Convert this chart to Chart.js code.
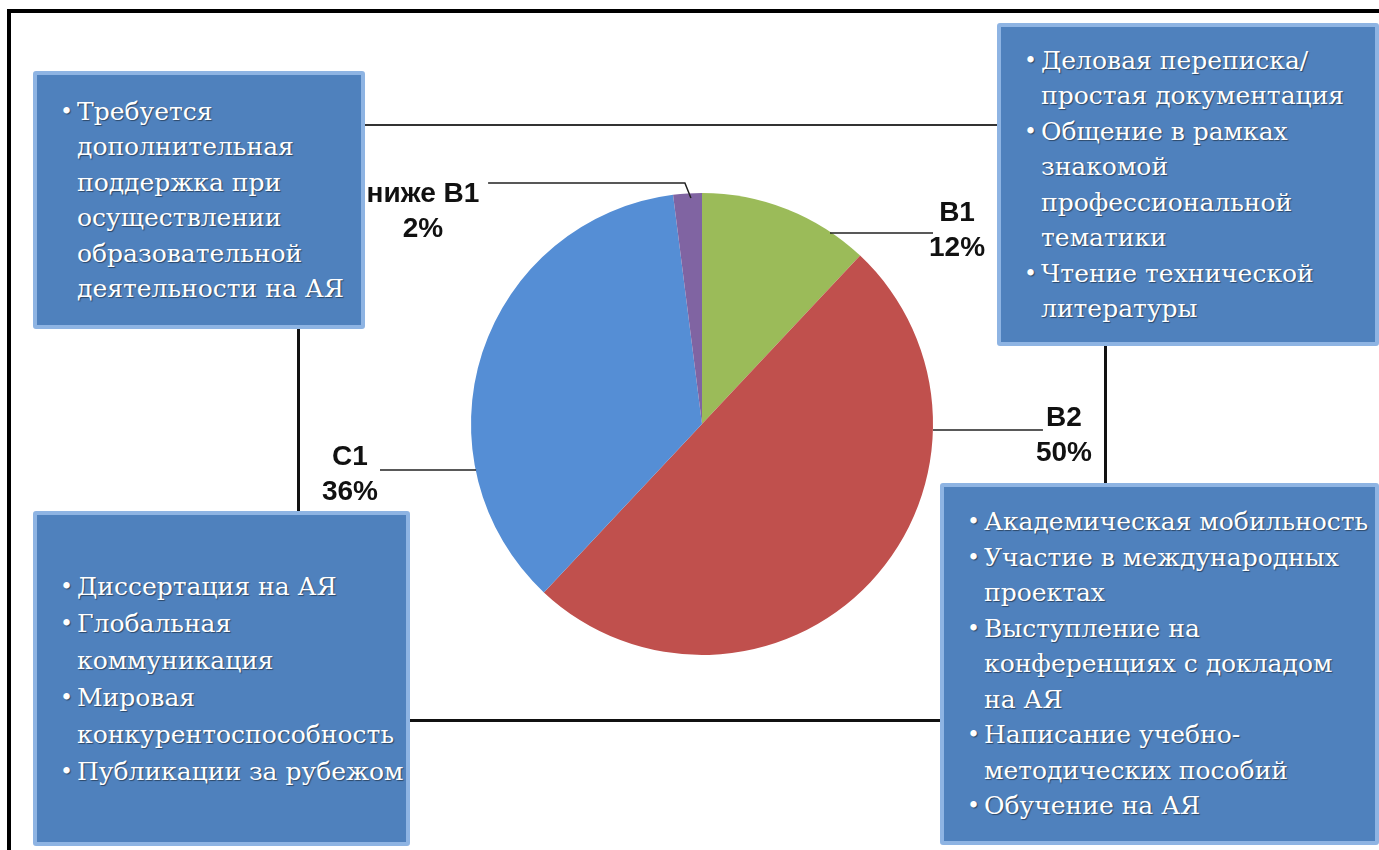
<!DOCTYPE html>
<html lang="ru">
<head>
<meta charset="UTF-8">
<title>Уровни владения АЯ</title>
<script src="https://cdn.jsdelivr.net/npm/chart.js"></script>
<style>
  html, body { margin: 0; padding: 0; background: #fff; overflow: hidden; }
  #stage { position: relative; width: 1379px; height: 850px; }
  #pie { position: absolute; left: 0; top: 0; z-index: 1; }
  .frame-top { position: absolute; left: 7px; top: 9px; width: 1372px; height: 4px; background: #000; }
  .frame-left { position: absolute; left: 7px; top: 9px; width: 4px; height: 841px; background: #000; }
  .wire { position: absolute; background: #111; z-index: 2; }
  .box {
    position: absolute; z-index: 3; box-sizing: border-box;
    background: #4f81bd; border: 4px solid #8eb4e3; border-radius: 3px;
    display: flex; flex-direction: column; justify-content: center;
    color: #fff; font-family: "DejaVu Serif", serif; font-size: 25px; line-height: 35.5px;
    text-shadow: 1px 1px 1px rgba(0,0,0,0.45);
  }
  .item { position: relative; padding-left: 40px; white-space: nowrap; }
  .item::before { content: "•"; position: absolute; left: 23px; font-size: 22px; }
</style>
</head>
<body>
<div id="stage">
  <div class="frame-top"></div>
  <div class="frame-left"></div>
  <canvas id="pie" width="1379" height="850"></canvas>
  <div class="wire" style="left:364px; top:124px; width:634px; height:2px; background:#333;"></div>
  <div class="wire" style="left:297px; top:328px; width:3px; height:183px;"></div>
  <div class="wire" style="left:1104px; top:345px; width:3px; height:139px;"></div>
  <div class="wire" style="left:409px; top:719px; width:531px; height:3px;"></div>
  <div class="box" id="boxTL" style="left:33px; top:71px; width:332px; height:258px;"></div>
  <div class="box" id="boxTR" style="left:997px; top:23px; width:382px; height:323px;"></div>
  <div class="box" id="boxBL" style="left:33px; top:511px; width:377px; height:335px; line-height:37px;"></div>
  <div class="box" id="boxBR" style="left:940px; top:483px; width:439px; height:362px;"></div>
</div>
<script>
// pie data
const categories = ['B1', 'B2', 'C1', 'ниже B1'];
const shares = [12, 50, 36, 2];
const sliceColors = ['#9bbb59', '#c0504d', '#558ed5', '#8064a2'];

// text boxes: each item is a list of its lines
const boxTopLeft = [
  ['Требуется', 'дополнительная', 'поддержка при', 'осуществлении', 'образовательной', 'деятельности на АЯ']
];
const boxTopRight = [
  ['Деловая переписка/', 'простая документация'],
  ['Общение в рамках', 'знакомой', 'профессиональной', 'тематики'],
  ['Чтение технической', 'литературы']
];
const boxBottomLeft = [
  ['Диссертация на АЯ'],
  ['Глобальная', 'коммуникация'],
  ['Мировая', 'конкурентоспособность'],
  ['Публикации за рубежом']
];
const boxBottomRight = [
  ['Академическая мобильность'],
  ['Участие в международных', 'проектах'],
  ['Выступление на', 'конференциях с докладом', 'на АЯ'],
  ['Написание учебно-', 'методических пособий'],
  ['Обучение на АЯ']
];

function fillBox(id, items) {
  const box = document.getElementById(id);
  items.forEach(lines => {
    const d = document.createElement('div');
    d.className = 'item';
    lines.forEach((t, i) => {
      if (i > 0) d.appendChild(document.createElement('br'));
      d.appendChild(document.createTextNode(t));
    });
    box.appendChild(d);
  });
}
fillBox('boxTL', boxTopLeft);
fillBox('boxTR', boxTopRight);
fillBox('boxBL', boxBottomLeft);
fillBox('boxBR', boxBottomRight);

// callout placement, in units of the pie radius from its centre
const callouts = [
  { label: [1.104, -0.840], leader: [[0.554, -0.827], [1.0, -0.827]] },
  { label: [1.567, 0.048], leader: [[1.0, 0.026], [1.476, 0.026]] },
  { label: [-1.524, 0.219], leader: [[-0.978, 0.199], [-1.394, 0.199]] },
  { label: [-1.208, -0.922], leader: [[-0.926, -1.043], [-0.074, -1.043], [-0.048, -0.978]] }
];

const calloutPlugin = {
  id: 'callouts',
  afterDatasetsDraw(chart) {
    const ctx = chart.ctx;
    const meta = chart.getDatasetMeta(0);
    ctx.save();
    meta.data.forEach((arc, i) => {
      const c = callouts[i];
      const r = arc.outerRadius;
      ctx.strokeStyle = '#222';
      ctx.lineWidth = 1.5;
      ctx.beginPath();
      c.leader.forEach((p, k) => {
        const x = arc.x + p[0] * r, y = arc.y + p[1] * r;
        if (k === 0) ctx.moveTo(x, y); else ctx.lineTo(x, y);
      });
      ctx.stroke();
      const lx = arc.x + c.label[0] * r, ly = arc.y + c.label[1] * r;
      ctx.fillStyle = '#111';
      ctx.font = 'bold 28px "Liberation Sans", Arial, sans-serif';
      ctx.textAlign = 'center';
      ctx.textBaseline = 'middle';
      ctx.fillText(categories[i], lx, ly - 17);
      ctx.fillText(shares[i] + '%', lx, ly + 18);
    });
    ctx.restore();
  }
};

new Chart(document.getElementById('pie'), {
  type: 'pie',
  data: {
    labels: categories,
    datasets: [{
      data: shares,
      backgroundColor: sliceColors,
      borderWidth: 0,
      hoverOffset: 0
    }]
  },
  options: {
    responsive: false,
    animation: false,
    layout: { padding: { left: 471, right: 446, top: 193, bottom: 195 } },
    plugins: {
      legend: { display: false },
      tooltip: { enabled: false }
    }
  },
  plugins: [calloutPlugin]
});
</script>
</body>
</html>
